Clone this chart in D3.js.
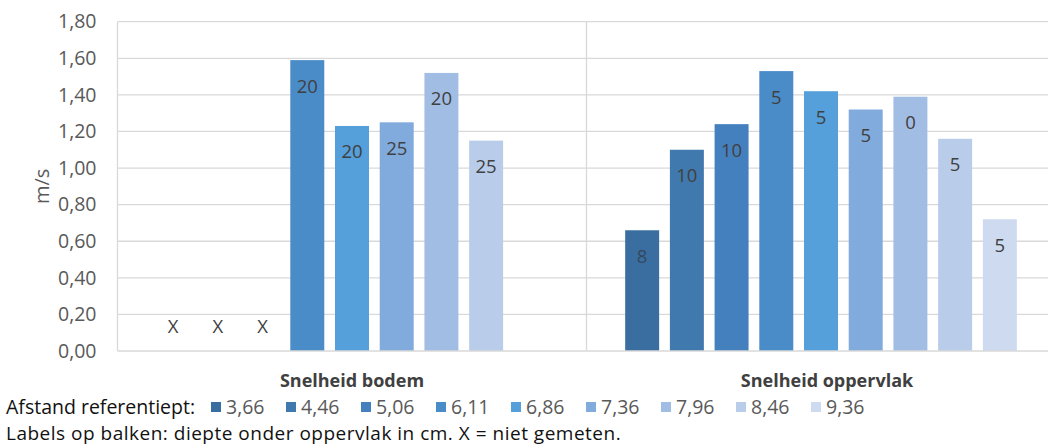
<!DOCTYPE html>
<html>
<head>
<meta charset="utf-8">
<script src="https://cdn.jsdelivr.net/npm/d3@7"></script>
<style>
  html, body { margin: 0; padding: 0; background: #fff; }
  svg { display: block; }
</style>
</head>
<body>
<svg id="chart" width="1048" height="448"></svg>
<script>
// Categories on the x axis
const categories = ["Snelheid bodem", "Snelheid oppervlak"];
// Series: distance to reference point (legend entries)
const series = ["3,66", "4,46", "5,06", "6,11", "6,86", "7,36", "7,96", "8,46", "9,36"];
const seriesColors = ["#3a6ea0", "#4079ae", "#4580be", "#4a8cc8", "#559fdb", "#82abdd", "#a2bde4", "#b9cdeb", "#cddaf0"];
// Velocities (m/s); null = not measured
const bodemValues = [null, null, null, 1.59, 1.23, 1.25, 1.52, 1.15, null];
const oppervlakValues = [0.66, 1.10, 1.24, 1.53, 1.42, 1.32, 1.39, 1.16, 0.72];
// Labels on bars: depth below surface in cm
const bodemLabels = ["X", "X", "X", "20", "20", "25", "20", "25", ""];
const oppervlakLabels = ["8", "10", "10", "5", "5", "5", "0", "5", "5"];
// Y axis ticks
const yTicks = [0, 0.2, 0.4, 0.6, 0.8, 1.0, 1.2, 1.4, 1.6, 1.8];

const values = [bodemValues, oppervlakValues];
const labels = [bodemLabels, oppervlakLabels];

const svg = d3.select("#chart");
const plotLeft = 117.5, plotRight = 1055.5, plotTop = 21.7, plotBottom = 351;

const y = d3.scaleLinear().domain([0, 1.8]).range([plotBottom, plotTop]);
const x0 = d3.scaleBand().domain(categories).range([plotLeft, plotRight]).padding(0);
const x1 = d3.scaleBand().domain(series).range([0, x0.bandwidth()])
  .paddingInner(0.24).paddingOuter(0.865);

const fmt = v => d3.format(".2f")(v).replace(".", ",");
const font = "'Open Sans', 'Noto Sans', sans-serif";

// Gridlines
svg.append("g").selectAll("line").data(yTicks.filter(t => t > 0)).join("line")
  .attr("x1", plotLeft).attr("x2", plotRight)
  .attr("y1", d => y(d)).attr("y2", d => y(d))
  .attr("stroke", "#d9d9d9").attr("stroke-width", 1.3);

// Left border and category separator
[plotLeft, x0(categories[1])].forEach(xv => {
  svg.append("line")
    .attr("x1", xv).attr("x2", xv)
    .attr("y1", plotTop).attr("y2", plotBottom)
    .attr("stroke", "#d9d9d9").attr("stroke-width", 1.3);
});

// Y axis
const yAxis = svg.append("g").attr("transform", `translate(${plotLeft},0)`)
  .call(d3.axisLeft(y).tickValues(yTicks).tickFormat(fmt).tickSize(0).tickPadding(21));
yAxis.select(".domain").remove();
yAxis.selectAll("text")
  .attr("font-family", font)
  .attr("font-size", 19.5).attr("fill", "#595959");

// Bars with depth labels
const groups = svg.append("g").selectAll("g").data(categories).join("g")
  .attr("transform", d => `translate(${x0(d)},0)`);

groups.each(function(cat, ci) {
  const g = d3.select(this);
  const rows = series.map((s, si) => ({ s, si, v: values[ci][si], label: labels[ci][si] }));
  g.selectAll("rect").data(rows.filter(r => r.v != null)).join("rect")
    .attr("x", r => x1(r.s)).attr("width", x1.bandwidth())
    .attr("y", r => y(r.v)).attr("height", r => y(0) - y(r.v))
    .attr("fill", r => seriesColors[r.si]);
  g.selectAll("text").data(rows.filter(r => r.label)).join("text")
    .attr("x", r => x1(r.s) + x1.bandwidth() / 2)
    .attr("y", r => (r.v != null ? y(r.v) + 26 : y(0) - 24))
    .attr("dy", "0.35em")
    .attr("text-anchor", "middle")
    .attr("font-family", font)
    .attr("font-size", 18.5)
    .attr("fill", r => r.v != null && r.si === 0 ? "#33495f" : "#404040")
    .text(r => r.label);
});

// X axis line
svg.append("line").attr("x1", plotLeft).attr("x2", plotRight)
  .attr("y1", plotBottom).attr("y2", plotBottom)
  .attr("stroke", "#d9d9d9").attr("stroke-width", 1.3);

// Category labels
svg.append("g").selectAll("text").data(categories).join("text")
  .attr("x", d => x0(d) + x0.bandwidth() / 2 + (d === categories[1] ? 6 : 0))
  .attr("y", 381).attr("dy", "0.35em")
  .attr("text-anchor", "middle")
  .attr("font-family", font)
  .attr("font-weight", "bold").attr("font-size", 18).attr("fill", "#404040")
  .text(d => d);

// Y axis title
svg.append("text")
  .attr("transform", `translate(42,${(plotTop + plotBottom) / 2}) rotate(-90)`)
  .attr("dy", "0.35em").attr("text-anchor", "middle")
  .attr("font-family", font)
  .attr("font-size", 20).attr("fill", "#595959")
  .text("m/s");

// Legend
svg.append("text").attr("x", 6).attr("y", 414)
  .attr("font-family", font).attr("font-size", 19.5).attr("fill", "#111")
  .text("Afstand referentiept:");
const legendX = d3.scalePoint().domain(series).range([211, 811]);
const items = svg.append("g").selectAll("g").data(series).join("g")
  .attr("transform", d => `translate(${legendX(d)},414)`);
items.append("rect").attr("x", 0).attr("y", -12).attr("width", 10).attr("height", 10)
  .attr("fill", (d, i) => seriesColors[i]);
items.append("text").attr("x", 15)
  .attr("font-family", font).attr("font-size", 19.5).attr("fill", "#595959")
  .text(d => d);

svg.append("text").attr("x", 6).attr("y", 440)
  .attr("font-family", font).attr("font-size", 19).attr("fill", "#111")
  .attr("letter-spacing", 0.5)
  .text("Labels op balken: diepte onder oppervlak in cm. X = niet gemeten.");
</script>
</body>
</html>
